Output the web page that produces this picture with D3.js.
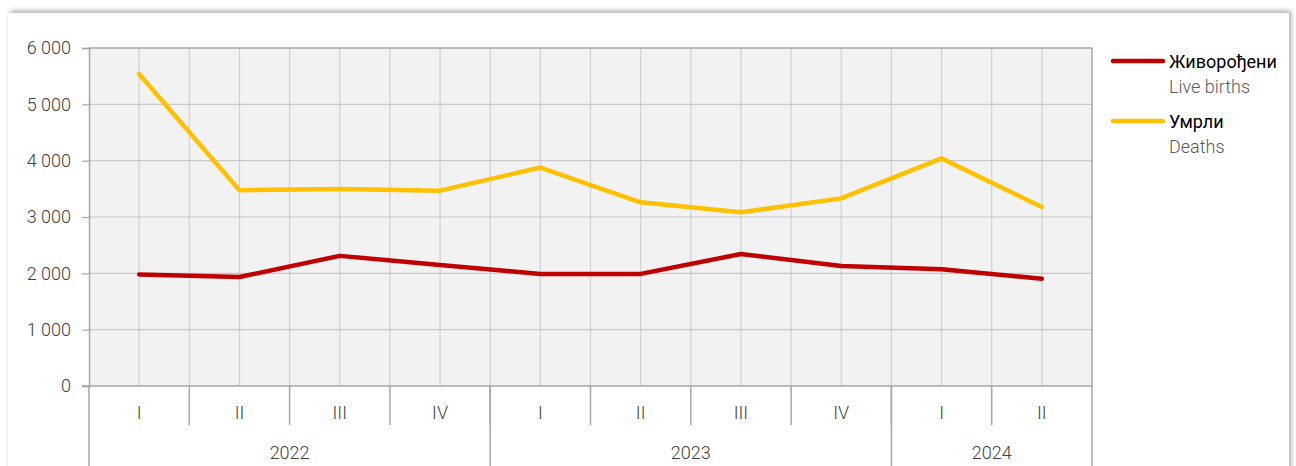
<!DOCTYPE html>
<html>
<head>
<meta charset="utf-8">
<script src="https://cdn.jsdelivr.net/npm/d3@7"></script>
<style>
  body { margin: 0; background: #fff; overflow: hidden; }
  #card { position: absolute; left: 8px; top: 13px; width: 1281px; height: 470px;
          background: #fff; box-shadow: 2px -2px 5px rgba(0,0,0,0.35); }
  svg { position: absolute; left: 0; top: 0; }
</style>
</head>
<body>
<div id="card"></div>
<svg id="chart"></svg>
<script>
var quarters = ["I", "II", "III", "IV", "I", "II", "III", "IV", "I", "II"];
var years = [{ label: "2022", n: 4 }, { label: "2023", n: 4 }, { label: "2024", n: 2 }];
var yTicks = [0, 1000, 2000, 3000, 4000, 5000, 6000];
var liveBirths = [1980, 1935, 2310, 2148, 1988, 1990, 2343, 2130, 2071, 1905];
var deaths = [5540, 3474, 3497, 3468, 3878, 3260, 3083, 3331, 4041, 3178];
var seriesNames = [
  { sr: "Живорођени", en: "Live births", color: "#c00000" },
  { sr: "Умрли", en: "Deaths", color: "#ffc000" }
];

var width = 1296, height = 466;
var plotLeft = 89, plotRight = 1092, plotTop = 48, plotBottom = 386;
var font = "'Roboto', sans-serif";

var svg = d3.select("#chart").attr("width", width).attr("height", height);

var idx = d3.range(quarters.length);
var x = d3.scaleBand().domain(idx).range([plotLeft, plotRight]);
var y = d3.scaleLinear().domain([0, 6000]).range([plotBottom, plotTop]);

// plot background
svg.append("rect")
  .attr("x", plotLeft).attr("y", plotTop)
  .attr("width", plotRight - plotLeft).attr("height", plotBottom - plotTop)
  .attr("fill", "#f2f2f2");

// vertical grid: boundaries and centres
var vg = [];
idx.forEach(function(i) { vg.push(x(i)); vg.push(x(i) + x.bandwidth() / 2); });
svg.append("g").selectAll("line").data(vg.slice(1)).join("line")
  .attr("x1", function(d) { return d; }).attr("x2", function(d) { return d; })
  .attr("y1", plotTop).attr("y2", plotBottom)
  .attr("stroke", "#d0d0d0").attr("stroke-width", 1.2);

// horizontal grid
svg.append("g").selectAll("line").data(yTicks.slice(1, -1)).join("line")
  .attr("x1", plotLeft).attr("x2", plotRight)
  .attr("y1", function(d) { return y(d); }).attr("y2", function(d) { return y(d); })
  .attr("stroke", "#c8c8c8").attr("stroke-width", 1.2);

// plot frame top and right
svg.append("path")
  .attr("d", "M" + plotLeft + "," + plotTop + "H" + plotRight + "V" + plotBottom)
  .attr("fill", "none").attr("stroke", "#a6a6a6").attr("stroke-width", 1.5);

// y axis
var yAxis = svg.append("g")
  .attr("transform", "translate(" + plotLeft + ",0)")
  .call(d3.axisLeft(y).tickValues(yTicks).tickSize(7).tickPadding(11)
    .tickFormat(function(d) { return d3.format(",")(d).replace(",", " "); }));
yAxis.select(".domain").attr("stroke", "#a6a6a6").attr("stroke-width", 1.5);
yAxis.selectAll(".tick line").attr("stroke", "#a6a6a6").attr("stroke-width", 1.2);
yAxis.selectAll("text").attr("fill", "#404040").attr("font-size", 18)
  .attr("font-family", font).attr("font-weight", 300);

// x axis baseline
svg.append("line")
  .attr("x1", plotLeft - 7).attr("x2", plotRight)
  .attr("y1", plotBottom).attr("y2", plotBottom)
  .attr("stroke", "#a6a6a6").attr("stroke-width", 1.5);

// quarter separators
svg.append("g").selectAll("line").data(idx.slice(1)).join("line")
  .attr("x1", function(d) { return x(d); }).attr("x2", function(d) { return x(d); })
  .attr("y1", plotBottom).attr("y2", 425)
  .attr("stroke", "#a6a6a6").attr("stroke-width", 1.5);

// year separators
var yearBounds = [0];
years.forEach(function(yr) { yearBounds.push(yearBounds[yearBounds.length - 1] + yr.n); });
function bx(d) { return d < quarters.length ? x(d) : plotRight; }
svg.append("g").selectAll("line").data(yearBounds).join("line")
  .attr("x1", bx).attr("x2", bx)
  .attr("y1", plotBottom).attr("y2", height)
  .attr("stroke", "#a6a6a6").attr("stroke-width", 1.5);

// quarter labels
svg.append("g").selectAll("text").data(idx).join("text")
  .attr("x", function(d) { return x(d) + x.bandwidth() / 2; })
  .attr("y", 419)
  .attr("text-anchor", "middle")
  .attr("font-size", 18).attr("font-family", font).attr("font-weight", 300)
  .attr("fill", "#404040")
  .text(function(d) { return quarters[d]; });

// year labels
svg.append("g").selectAll("text").data(years).join("text")
  .attr("x", function(d, i) { return (bx(yearBounds[i]) + bx(yearBounds[i + 1])) / 2; })
  .attr("y", 459)
  .attr("text-anchor", "middle")
  .attr("font-size", 18).attr("font-family", font).attr("font-weight", 300)
  .attr("fill", "#404040")
  .text(function(d) { return d.label; });

// lines
var line = d3.line()
  .x(function(d, i) { return x(i) + x.bandwidth() / 2; })
  .y(function(d) { return y(d); });

[liveBirths, deaths].forEach(function(vals, k) {
  svg.append("path")
    .datum(vals)
    .attr("d", line)
    .attr("fill", "none")
    .attr("stroke", seriesNames[k].color)
    .attr("stroke-width", 4.5)
    .attr("stroke-linejoin", "round")
    .attr("stroke-linecap", "round");
});

// legend
var lg = svg.append("g").selectAll("g").data(seriesNames).join("g")
  .attr("transform", function(d, i) { return "translate(1113," + (61 + i * 60) + ")"; });
lg.append("line")
  .attr("x1", 0).attr("x2", 50).attr("y1", 0).attr("y2", 0)
  .attr("stroke", function(d) { return d.color; })
  .attr("stroke-width", 4.5).attr("stroke-linecap", "round");
lg.append("text")
  .attr("x", 56).attr("y", 7)
  .attr("font-size", 18).attr("font-family", font).attr("fill", "#000")
  .text(function(d) { return d.sr; });
lg.append("text")
  .attr("x", 56).attr("y", 32)
  .attr("font-size", 18).attr("font-family", font).attr("font-weight", 300)
  .attr("fill", "#595959")
  .text(function(d) { return d.en; });
</script>
</body>
</html>
